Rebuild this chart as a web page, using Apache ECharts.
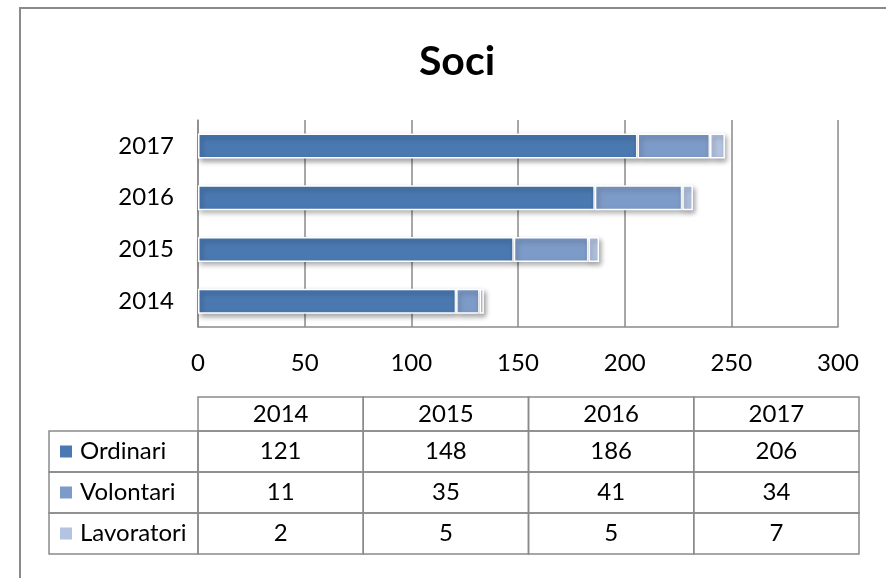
<!DOCTYPE html>
<html>
<head>
<meta charset="utf-8">
<script src="https://cdn.jsdelivr.net/npm/echarts@6/dist/echarts.min.js"></script>
<style>
  html, body { margin: 0; padding: 0; background: #fff; }
  #chart { width: 886px; height: 578px; }
</style>
</head>
<body>
<div id="chart"></div>
<script>
const years = ['2014', '2015', '2016', '2017']
const seriesNames = ['Ordinari', 'Volontari', 'Lavoratori']
const ordinari = [121, 148, 186, 206]
const volontari = [11, 35, 41, 34]
const lavoratori = [2, 5, 5, 7]
const colors = ['#4a78b0', '#7d9bc8', '#b3c3e0']

const FONT = 'Lato, "Open Sans", sans-serif'
const LINE = '#8a8a8a'
const TXT = 24

const chart = echarts.init(document.getElementById('chart'), null, { renderer: 'canvas' })

// data table under the plot
const tableLeft = 49
const colX = [198, 363.25, 528.5, 693.75, 859]
const headTop = 397
const headH = 34
const rowH = 41
const rows = [ordinari, volontari, lavoratori]

const buildTable = () => {
  const els = []
  const cellStyle = { fill: 'none', stroke: LINE, lineWidth: 1.5 }
  years.forEach((y, i) => {
    els.push({
      type: 'rect',
      shape: { x: colX[i], y: headTop, width: colX[i + 1] - colX[i], height: headH },
      style: cellStyle,
    })
    els.push({
      type: 'text',
      x: (colX[i] + colX[i + 1]) / 2,
      y: headTop + headH / 2,
      style: { text: y, font: `${TXT}px ${FONT}`, fill: '#000', align: 'center', verticalAlign: 'middle' },
    })
  })
  rows.forEach((vals, r) => {
    const top = headTop + headH + r * rowH
    els.push({
      type: 'rect',
      shape: { x: tableLeft, y: top, width: colX[0] - tableLeft, height: rowH },
      style: cellStyle,
    })
    els.push({
      type: 'rect',
      shape: { x: tableLeft + 11, y: top + rowH / 2 - 6, width: 12, height: 12 },
      style: { fill: colors[r] },
    })
    els.push({
      type: 'text',
      x: tableLeft + 31,
      y: top + rowH / 2,
      style: { text: seriesNames[r], font: `${TXT}px ${FONT}`, fill: '#000', align: 'left', verticalAlign: 'middle' },
    })
    vals.forEach((v, i) => {
      els.push({
        type: 'rect',
        shape: { x: colX[i], y: top, width: colX[i + 1] - colX[i], height: rowH },
        style: cellStyle,
      })
      els.push({
        type: 'text',
        x: (colX[i] + colX[i + 1]) / 2,
        y: top + rowH / 2,
        style: { text: String(v), font: `${TXT}px ${FONT}`, fill: '#000', align: 'center', verticalAlign: 'middle' },
      })
    })
  })
  return els
}

const barSeries = (name, data, color) => ({
  name,
  type: 'bar',
  stack: 'soci',
  data,
  barWidth: 25,
  itemStyle: {
    color,
    borderColor: '#ffffff',
    borderWidth: 1.5,
    shadowColor: 'rgba(0,0,0,0.35)',
    shadowBlur: 5,
    shadowOffsetX: 2,
    shadowOffsetY: 3,
  },
})

const option = {
  backgroundColor: '#ffffff',
  animation: false,
  title: {
    text: 'Soci',
    left: 452,
    textAlign: 'center',
    top: 36,
    textStyle: { fontFamily: FONT, fontSize: 41, fontWeight: 'bold', color: '#000' },
  },
  grid: { left: 198, right: 48, top: 120, bottom: 251 },
  xAxis: {
    type: 'value',
    min: 0,
    max: 300,
    interval: 50,
    axisLine: { show: true, lineStyle: { color: LINE, width: 1.5 } },
    axisTick: { show: false },
    axisLabel: { color: '#000', fontFamily: FONT, fontSize: TXT, margin: 24 },
    splitLine: { show: true, lineStyle: { color: LINE, width: 1.5 } },
  },
  yAxis: {
    type: 'category',
    data: years,
    axisLine: { show: true, lineStyle: { color: LINE, width: 1.5 } },
    axisTick: { show: false },
    axisLabel: { color: '#000', fontFamily: FONT, fontSize: TXT, margin: 24 },
  },
  series: [
    barSeries(seriesNames[0], ordinari, colors[0]),
    barSeries(seriesNames[1], volontari, colors[1]),
    barSeries(seriesNames[2], lavoratori, colors[2]),
  ],
  graphic: [
    {
      type: 'polyline',
      shape: { points: [[20, 600], [20, 8], [900, 8]] },
      style: { stroke: LINE, lineWidth: 2, fill: 'none' },
    },
    ...buildTable(),
  ],
}

chart.setOption(option)
</script>
</body>
</html>
